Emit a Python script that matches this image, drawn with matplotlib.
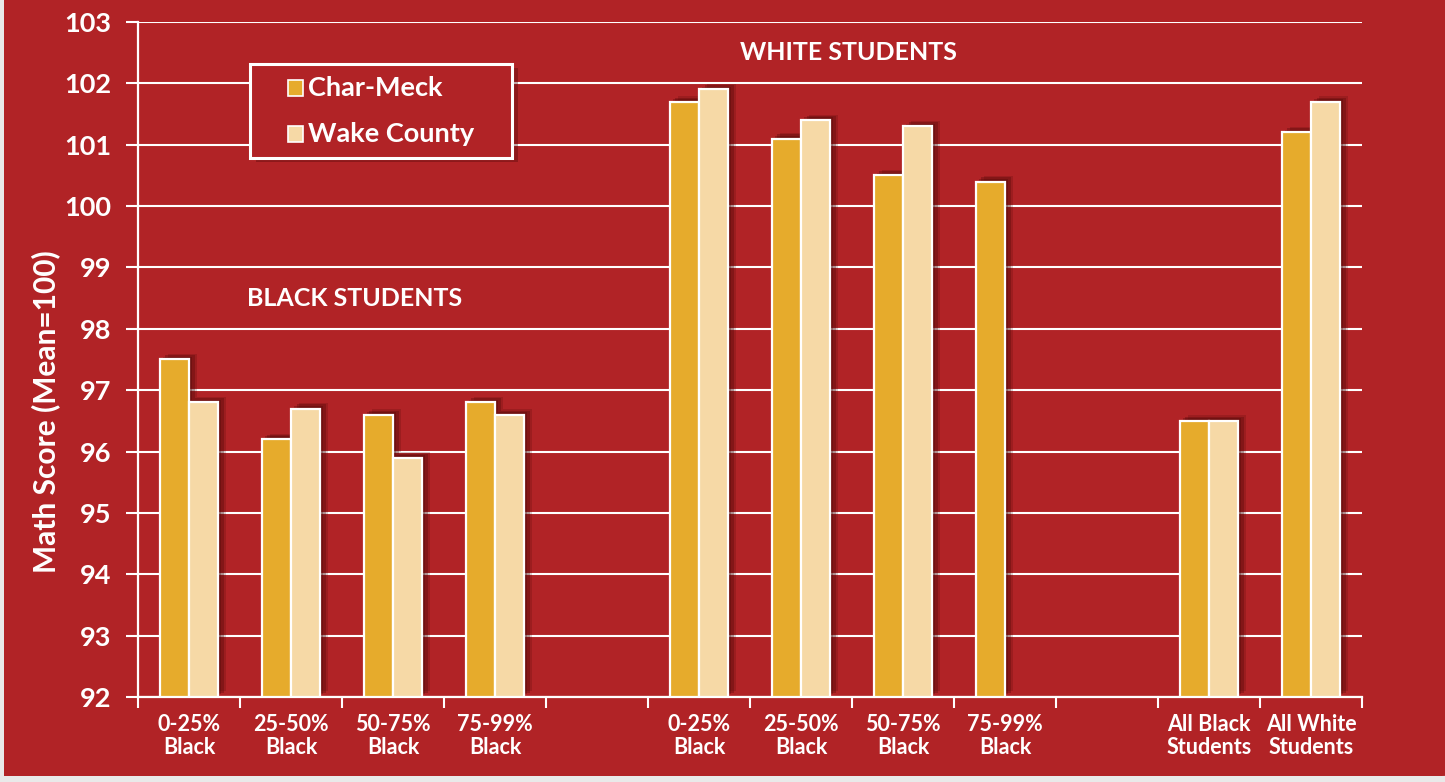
import numpy as np
import matplotlib
matplotlib.use("Agg")
import matplotlib.pyplot as plt
from matplotlib.patches import FancyBboxPatch, Rectangle
import matplotlib.patheffects as pe

# ---- data ----
categories = ["0-25%\nBlack", "25-50%\nBlack", "50-75%\nBlack", "75-99%\nBlack", "",
              "0-25%\nBlack", "25-50%\nBlack", "50-75%\nBlack", "75-99%\nBlack", "",
              "All Black\nStudents", "All White\nStudents"]
char_meck = [97.5, 96.2, 96.6, 96.8, np.nan, 101.7, 101.1, 100.5, 100.4, np.nan, 96.5, 101.2]
wake_county = [96.8, 96.7, 95.9, 96.6, np.nan, 101.9, 101.4, 101.3, np.nan, np.nan, 96.5, 101.7]
series_names = ["Char-Meck", "Wake County"]
y_ticks = list(range(92, 104))
ylabel = "Math Score (Mean=100)"
group_labels = ["BLACK STUDENTS", "WHITE STUDENTS"]

RED = "#B12326"
GOLD = "#E6AB2C"
CREAM = "#F6D9A6"
FONT = "Lato"
WT = "bold"

W, H = 1445, 782
fig = plt.figure(figsize=(W / 100, H / 100), dpi=100)
fig.patch.set_facecolor("#E9E9E9")
bg = FancyBboxPatch((-100 / W, 6 / H), (W + 140) / W, (H + 40) / H,
                    boxstyle="round,pad=0,rounding_size=0.03",
                    transform=fig.transFigure, facecolor=RED, edgecolor="none",
                    mutation_aspect=W / H, zorder=-10)
fig.patches.append(bg)
strip = Rectangle((0, 0), 4 / W, 1, transform=fig.transFigure,
                  facecolor="#E9E9E9", edgecolor="none", zorder=-9)
fig.patches.append(strip)

ax = fig.add_axes([138 / W, 1 - 697 / H, (1362 - 138) / W, (697 - 22) / H])
ax.set_facecolor("none")
ax.set_zorder(1)

x = np.arange(len(categories))
bw = 0.285
shadow = [pe.SimplePatchShadow(offset=(6, 4), shadow_rgbFace="#4a0606", alpha=0.2),
          pe.SimplePatchShadow(offset=(4, 3), shadow_rgbFace="#4a0606", alpha=0.3),
          pe.SimplePatchShadow(offset=(2, 2), shadow_rgbFace="#4a0606", alpha=0.3),
          pe.Normal()]
b1 = ax.bar(x - bw / 2, np.array(char_meck) - 92, bw, bottom=92, color=GOLD,
            edgecolor="white", linewidth=1.6, label=series_names[0], zorder=3)
b2 = ax.bar(x + bw / 2, np.array(wake_county) - 92, bw, bottom=92, color=CREAM,
            edgecolor="white", linewidth=1.6, label=series_names[1], zorder=3)
for c in (b1, b2):
    for p in c.patches:
        p.set_path_effects(shadow)

ax.set_xlim(-0.5, len(categories) - 0.5)
ax.set_ylim(92, 103)
ax.set_yticks(y_ticks)
ax.set_yticklabels([str(v) for v in y_ticks], fontsize=19.5, fontweight=WT,
                   color="white", family=FONT)
ax.set_xticks(x)
ax.set_xticklabels(categories, fontsize=15.5, fontweight=WT, color="white",
                   family=FONT, linespacing=1.15)
ax.set_xticks(np.arange(-0.5, len(categories)), minor=True)
ax.tick_params(axis="x", which="major", length=0, pad=12)
ax.tick_params(axis="x", which="minor", length=8, width=1.5, color="white", direction="out")
ax.tick_params(axis="y", length=9, width=1.5, color="white", direction="out", pad=10)
ax.yaxis.grid(True, color="white", linewidth=1.5, zorder=1)
ax.set_axisbelow(True)
for s in ("top", "right"):
    ax.spines[s].set_visible(False)
for s in ("left", "bottom"):
    ax.spines[s].set_color("white")
    ax.spines[s].set_linewidth(1.6)

fig.text(46 / W, 1 - 412 / H, ylabel, rotation=90, ha="center", va="center",
         fontsize=21.5, fontweight=WT, color="white", family=FONT)

fig.text(355 / W, 1 - 299 / H, group_labels[0], ha="center", va="center", fontsize=18,
         fontweight=WT, color="white", family=FONT)
fig.text(848 / W, 1 - 53 / H, group_labels[1], ha="center", va="center", fontsize=18,
         fontweight=WT, color="white", family=FONT)

# legend (drawn manually to match box proportions)
lx0, ly0, lx1, ly1 = 250, 64, 512, 158
frame = Rectangle((lx0 / W, 1 - ly1 / H), (lx1 - lx0) / W, (ly1 - ly0) / H,
                  transform=fig.transFigure, facecolor=RED, edgecolor="white",
                  linewidth=2.2, zorder=5)
frame.set_path_effects([pe.SimplePatchShadow(offset=(4, -3), shadow_rgbFace="#4a0606", alpha=0.35),
                        pe.Normal()])
fig.patches.append(frame)
for name, col, yc in zip(series_names, [GOLD, CREAM], [88, 134]):
    fig.patches.append(Rectangle((288 / W, 1 - (yc + 7.5) / H), 15 / W, 15 / H,
                                 transform=fig.transFigure, facecolor=col,
                                 edgecolor="white", linewidth=1.2, zorder=6))
    fig.text(308 / W, 1 - yc / H, name, ha="left", va="center", fontsize=19.5,
             fontweight=WT, color="white", family=FONT, zorder=6)

fig.savefig("out.png", dpi=100, facecolor=fig.get_facecolor())
